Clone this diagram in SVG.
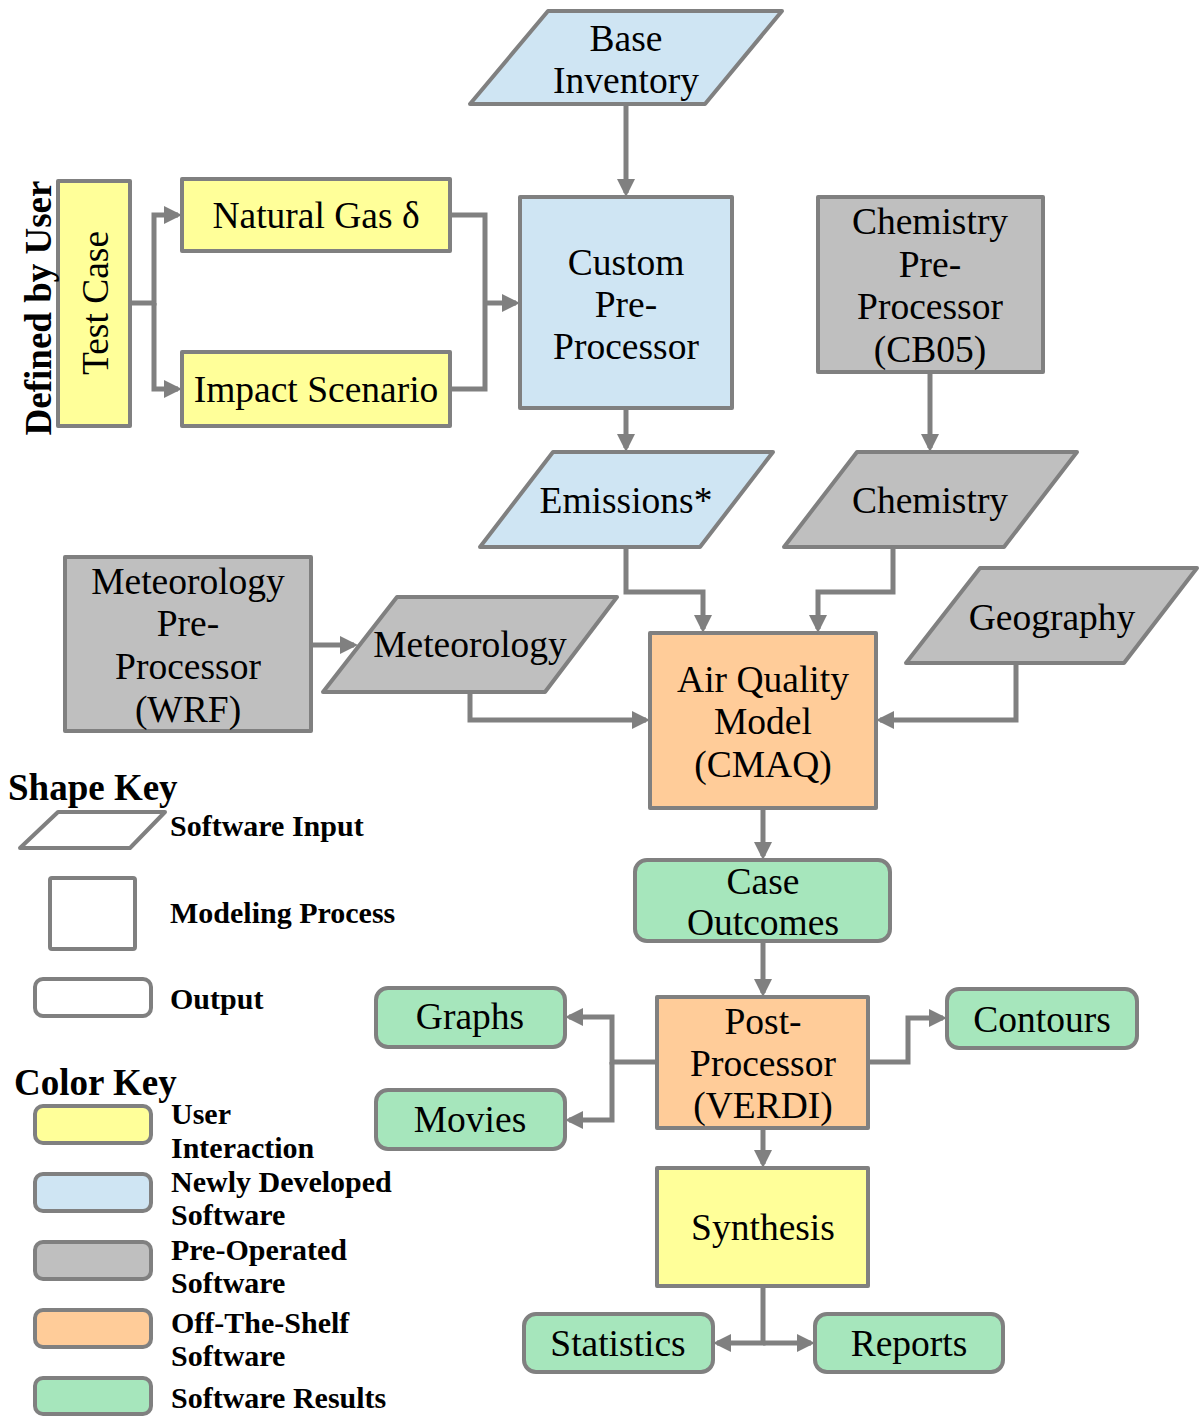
<svg xmlns="http://www.w3.org/2000/svg" width="1199" height="1416" viewBox="0 0 1199 1416">
<style>
.s{stroke:#808080;stroke-width:4;stroke-linejoin:round}
.y{fill:#FFFF99}.b{fill:#CFE5F3}.g{fill:#BFBFBF}.o{fill:#FFCC99}.gr{fill:#A6E6BC}.w{fill:#FFFFFF}
.t{font-family:"Liberation Serif",serif;font-size:37.5px;fill:#000;text-anchor:middle}
.k{font-family:"Liberation Serif",serif;font-weight:bold;font-size:30px;fill:#000}
.h{font-family:"Liberation Serif",serif;font-weight:bold;font-size:37px;fill:#000}
.c{fill:none;stroke:#808080;stroke-width:5;stroke-linejoin:miter}
</style>
<defs>
<marker id="a" markerUnits="userSpaceOnUse" markerWidth="18" markerHeight="18" viewBox="0 0 18 18" refX="14" refY="9" orient="auto">
<path d="M0,0 L18,9 L0,18 z" fill="#808080"/>
</marker>
</defs>
<g id="connectors">
<path class="c" d="M626,104 V193" marker-end="url(#a)"/>
<path class="c" d="M130,303 H154 V215 H178" marker-end="url(#a)"/>
<path class="c" d="M154,303 V389 H178" marker-end="url(#a)"/>
<path class="c" d="M450,215 H485 V389 H450"/>
<path class="c" d="M485,303 H516" marker-end="url(#a)"/>
<path class="c" d="M626,408 V448" marker-end="url(#a)"/>
<path class="c" d="M930,372 V448" marker-end="url(#a)"/>
<path class="c" d="M626,547 V592 H703 V629" marker-end="url(#a)"/>
<path class="c" d="M893,547 V592 H818 V629" marker-end="url(#a)"/>
<path class="c" d="M1016,663 V720 H880" marker-end="url(#a)"/>
<path class="c" d="M311,645 H354" marker-end="url(#a)"/>
<path class="c" d="M470,692 V720 H646" marker-end="url(#a)"/>
<path class="c" d="M763,808 V856" marker-end="url(#a)"/>
<path class="c" d="M763,941 V993" marker-end="url(#a)"/>
<path class="c" d="M657,1062 H612 V1017 H569" marker-end="url(#a)"/>
<path class="c" d="M612,1062 V1120 H569" marker-end="url(#a)"/>
<path class="c" d="M868,1062 H908 V1018 H943" marker-end="url(#a)"/>
<path class="c" d="M763,1128 V1164" marker-end="url(#a)"/>
<path class="c" d="M763,1286 V1343 H717" marker-end="url(#a)"/>
<path class="c" d="M763,1343 H811" marker-end="url(#a)"/>
</g>
<g id="base-inventory">
<polygon class="s b" points="548,11 782,11 705,104 470,104"/>
<text class="t" x="626" y="51">Base</text>
<text class="t" x="626" y="93">Inventory</text>
</g>
<g id="custom-preprocessor">
<rect class="s b" x="520" y="197" width="212" height="211"/>
<text class="t" x="626" y="275">Custom</text>
<text class="t" x="626" y="317">Pre-</text>
<text class="t" x="626" y="359">Processor</text>
</g>
<g id="natural-gas">
<rect class="s y" x="182" y="179" width="268" height="72"/>
<text class="t" x="316" y="228">Natural Gas δ</text>
</g>
<g id="impact-scenario">
<rect class="s y" x="182" y="352" width="268" height="74"/>
<text class="t" x="316" y="402">Impact Scenario</text>
</g>
<g id="test-case">
<rect class="s y" x="58" y="181" width="72" height="245"/>
<text class="t" transform="translate(108,303) rotate(-90)" x="0" y="0">Test Case</text>
</g>
<g id="defined-by-user">
<text class="h" style="text-anchor:middle" transform="translate(51,308) rotate(-90)" x="0" y="0">Defined by User</text>
</g>
<g id="chemistry-preprocessor">
<rect class="s g" x="818" y="197" width="225" height="175"/>
<text class="t" x="930" y="234">Chemistry</text>
<text class="t" x="930" y="277">Pre-</text>
<text class="t" x="930" y="319">Processor</text>
<text class="t" x="930" y="362">(CB05)</text>
</g>
<g id="emissions">
<polygon class="s b" points="553,452 773,452 700,547 480,547"/>
<text class="t" x="626" y="513">Emissions*</text>
</g>
<g id="chemistry">
<polygon class="s g" points="857,452 1077,452 1004,547 784,547"/>
<text class="t" x="930" y="513">Chemistry</text>
</g>
<g id="meteorology-preprocessor">
<rect class="s g" x="65" y="557" width="246" height="174"/>
<text class="t" x="188" y="594">Meteorology</text>
<text class="t" x="188" y="636">Pre-</text>
<text class="t" x="188" y="679">Processor</text>
<text class="t" x="188" y="722">(WRF)</text>
</g>
<g id="meteorology">
<polygon class="s g" points="397,597 617,597 545,692 323,692"/>
<text class="t" x="470" y="657">Meteorology</text>
</g>
<g id="geography">
<polygon class="s g" points="980,568 1197,568 1124,663 906,663"/>
<text class="t" x="1052" y="630">Geography</text>
</g>
<g id="air-quality-model">
<rect class="s o" x="650" y="633" width="226" height="175"/>
<text class="t" x="763" y="692">Air Quality</text>
<text class="t" x="763" y="734">Model</text>
<text class="t" x="763" y="777">(CMAQ)</text>
</g>
<g id="case-outcomes">
<rect class="s gr" x="635" y="860" width="255" height="81" rx="12"/>
<text class="t" x="763" y="894">Case</text>
<text class="t" x="763" y="935">Outcomes</text>
</g>
<g id="post-processor">
<rect class="s o" x="657" y="997" width="211" height="131"/>
<text class="t" x="763" y="1034">Post-</text>
<text class="t" x="763" y="1076">Processor</text>
<text class="t" x="763" y="1118">(VERDI)</text>
</g>
<g id="graphs">
<rect class="s gr" x="376" y="988" width="189" height="59" rx="12"/>
<text class="t" x="470" y="1029">Graphs</text>
</g>
<g id="movies">
<rect class="s gr" x="376" y="1090" width="189" height="59" rx="12"/>
<text class="t" x="470" y="1132">Movies</text>
</g>
<g id="contours">
<rect class="s gr" x="947" y="989" width="190" height="59" rx="12"/>
<text class="t" x="1042" y="1032">Contours</text>
</g>
<g id="synthesis">
<rect class="s y" x="657" y="1168" width="211" height="118"/>
<text class="t" x="763" y="1240">Synthesis</text>
</g>
<g id="statistics">
<rect class="s gr" x="524" y="1314" width="189" height="58" rx="12"/>
<text class="t" x="618" y="1356">Statistics</text>
</g>
<g id="reports">
<rect class="s gr" x="815" y="1314" width="188" height="58" rx="12"/>
<text class="t" x="909" y="1356">Reports</text>
</g>
<g id="shape-key">
<text class="h" x="8" y="800">Shape Key</text>
<polygon class="s w" points="58,812 165,812 130,848 20,848"/>
<text class="k" x="170" y="836">Software Input</text>
<rect class="s w" x="50" y="878" width="85" height="71" rx="2"/>
<text class="k" x="170" y="923">Modeling Process</text>
<rect class="s w" x="35" y="979" width="116" height="37" rx="8"/>
<text class="k" x="170" y="1009">Output</text>
</g>
<g id="color-key">
<text class="h" x="14" y="1095">Color Key</text>
<rect class="s y" x="35" y="1106" width="116" height="37" rx="8"/>
<text class="k" x="171" y="1124">User</text>
<text class="k" x="171" y="1158">Interaction</text>
<rect class="s b" x="35" y="1174" width="116" height="37" rx="8"/>
<text class="k" x="171" y="1192">Newly Developed</text>
<text class="k" x="171" y="1225">Software</text>
<rect class="s g" x="35" y="1242" width="116" height="37" rx="8"/>
<text class="k" x="171" y="1260">Pre-Operated</text>
<text class="k" x="171" y="1293">Software</text>
<rect class="s o" x="35" y="1310" width="116" height="37" rx="8"/>
<text class="k" x="171" y="1333">Off-The-Shelf</text>
<text class="k" x="171" y="1366">Software</text>
<rect class="s gr" x="35" y="1378" width="116" height="36" rx="8"/>
<text class="k" x="171" y="1408">Software Results</text>
</g>
</svg>
